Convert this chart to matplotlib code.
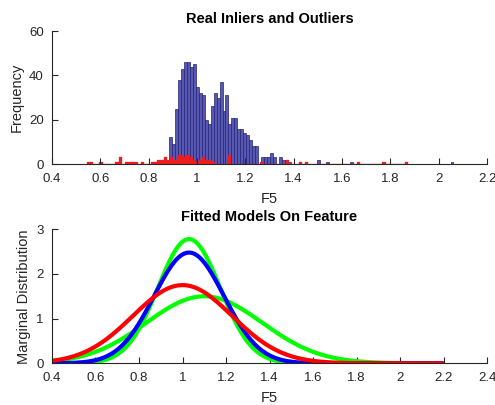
import numpy as np
import matplotlib
matplotlib.use("Agg")
import matplotlib.pyplot as plt

plt.rcParams['font.family'] = ['Liberation Sans', 'DejaVu Sans']

# histogram of inliers: 100 bins between min and max value
inlier_range = (0.836, 2.061)
inlier_counts = [
    1, 2, 2, 2, 12, 9, 25, 38, 43, 46,
    46, 44, 45, 35, 32, 31, 20, 18, 26, 32,
    30, 37, 24, 31, 18, 21, 21, 16, 16, 14,
    13, 11, 8, 8, 0, 3, 3, 3, 5, 3,
    0, 3, 2, 2, 1, 0, 0, 0, 0, 0,
    0, 0, 0, 0, 2, 0, 0, 1, 0, 0,
    0, 0, 0, 0, 0, 1, 0, 0, 0, 0,
    0, 0, 0, 0, 0, 0, 0, 0, 0, 0,
    0, 0, 0, 0, 0, 0, 0, 0, 0, 0,
    0, 0, 0, 0, 0, 0, 0, 0, 0, 1,
]

# histogram of outliers: 100 bins between min and max value
outlier_range = (0.543, 1.873)
outlier_counts = [
    1, 1, 0, 0, 1, 0, 0, 0, 0, 1,
    3, 0, 1, 1, 1, 1, 0, 1, 0, 0,
    1, 1, 2, 2, 3, 2, 3, 2, 4, 4,
    3, 4, 3, 2, 1, 2, 3, 2, 2, 1,
    0, 0, 0, 0, 4, 0, 0, 0, 0, 0,
    0, 0, 0, 0, 1, 0, 0, 0, 0, 0,
    0, 0, 2, 0, 0, 0, 1, 0, 1, 0,
    0, 0, 0, 0, 0, 0, 0, 0, 0, 0,
    0, 0, 0, 0, 1, 0, 0, 0, 0, 0,
    0, 0, 1, 0, 0, 0, 0, 0, 0, 1,
]

# fitted normal models (mean, std)
model_names = ['green narrow', 'green wide', 'blue', 'red']
model_means = [1.03, 1.10, 1.03, 1.00]
model_stds = [0.1435, 0.266, 0.161, 0.228]
model_colors = ['#00ff00', '#00ff00', '#0000ff', '#ff0000']
curve_range = (0.4, 2.2)

INK = '#262626'


def style_axes(ax):
    for side in ['top', 'right']:
        ax.spines[side].set_visible(False)
    for side in ['left', 'bottom']:
        ax.spines[side].set_color(INK)
        ax.spines[side].set_linewidth(0.8)
    ax.tick_params(direction='in', colors=INK, labelsize=9.5, length=4, width=0.8)
    ax.tick_params(axis='x', pad=6.5)
    ax.tick_params(axis='y', pad=6)


fig = plt.figure(figsize=(4.95, 4.05), dpi=100)

# top: real inliers and outliers
ax1 = fig.add_axes([0.105, 0.595, 0.879, 0.328])
edges_in = np.linspace(inlier_range[0], inlier_range[1], len(inlier_counts) + 1)
edges_out = np.linspace(outlier_range[0], outlier_range[1], len(outlier_counts) + 1)
ax1.bar(edges_in[:-1], inlier_counts, width=np.diff(edges_in), align='edge',
        color='#5858b0', edgecolor='#22227a', linewidth=0.5)
ax1.bar(edges_out[:-1], outlier_counts, width=np.diff(edges_out), align='edge',
        color='#ee1c1c', edgecolor='#ee1c1c', linewidth=0.2)
ax1.set_xlim(0.4, 2.2)
ax1.set_ylim(0, 60)
ax1.set_xticks(np.arange(0.4, 2.21, 0.2))
ax1.set_xticklabels(['0.4', '0.6', '0.8', '1', '1.2', '1.4', '1.6', '1.8', '2', '2.2'])
ax1.set_yticks([0, 20, 40, 60])
style_axes(ax1)
ax1.set_title('Real Inliers and Outliers', fontsize=10.5, fontweight='bold', color='black', pad=6)
ax1.set_xlabel('F5', fontsize=10.5, color=INK, labelpad=5)
ax1.set_ylabel('Frequency', fontsize=10.5, color=INK, labelpad=4)

# bottom: fitted models
ax2 = fig.add_axes([0.105, 0.103, 0.879, 0.331])
xs = np.linspace(curve_range[0], curve_range[1], 400)
for mu, sd, col in zip(model_means, model_stds, model_colors):
    pdf = np.exp(-0.5 * ((xs - mu) / sd) ** 2) / (sd * np.sqrt(2 * np.pi))
    ax2.plot(xs, pdf, color=col, linewidth=3, solid_capstyle='butt')
ax2.set_xlim(0.4, 2.4)
ax2.set_ylim(0, 3)
ax2.set_xticks(np.arange(0.4, 2.41, 0.2))
ax2.set_xticklabels(['0.4', '0.6', '0.8', '1', '1.2', '1.4', '1.6', '1.8', '2', '2.2', '2.4'])
ax2.set_yticks([0, 1, 2, 3])
style_axes(ax2)
ax2.set_title('Fitted Models On Feature', fontsize=10.5, fontweight='bold', color='black', pad=6)
ax2.set_xlabel('F5', fontsize=10.5, color=INK, labelpad=5)
ax2.set_ylabel('Marginal Distribution', fontsize=10.5, color=INK, labelpad=4)

fig.savefig('out.png', dpi=100, facecolor='white')
